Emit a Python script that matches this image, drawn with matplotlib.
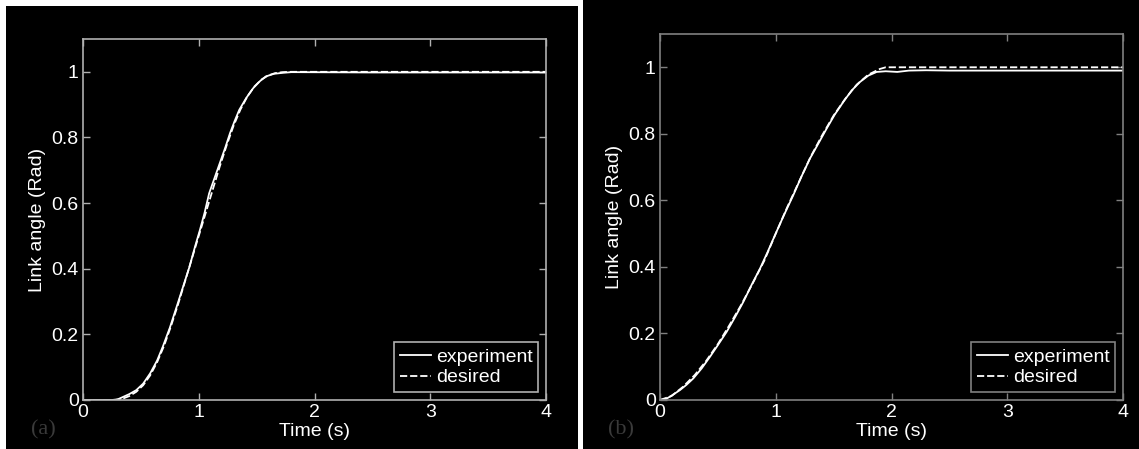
import matplotlib
matplotlib.use("Agg")
import matplotlib.pyplot as plt
from matplotlib.ticker import FuncFormatter

# ---- data ----
t_exp_a = [0, 0.25, 0.30, 0.35, 0.40, 0.46, 0.52, 0.58, 0.64, 0.69, 0.75, 0.81, 0.86,
           0.92, 0.97, 1.01, 1.05, 1.09, 1.14, 1.18, 1.23, 1.27, 1.31, 1.35, 1.41,
           1.47, 1.53, 1.58, 1.65, 1.73, 1.80, 2.5, 3.0, 4.0]
y_exp_a = [0.0, 0.0, 0.002, 0.01, 0.018, 0.03, 0.05, 0.081, 0.12, 0.163, 0.22, 0.285, 0.34,
           0.406, 0.47, 0.518, 0.57, 0.63, 0.68, 0.72, 0.77, 0.813, 0.85, 0.884, 0.92,
           0.95, 0.972, 0.986, 0.994, 0.997, 0.999, 0.998, 0.998, 0.998]
t_des_a = [0, 0.28, 0.35, 0.40, 0.46, 0.52, 0.58, 0.64, 0.70, 0.76, 0.82, 0.88, 0.94,
           1.00, 1.06, 1.12, 1.18, 1.24, 1.30, 1.36, 1.42, 1.48, 1.54, 1.60, 1.66,
           1.72, 1.80, 4.0]
y_des_a = [0.0, 0.0, 0.005, 0.012, 0.025, 0.045, 0.075, 0.115, 0.165, 0.225, 0.29, 0.36, 0.43,
           0.5, 0.57, 0.64, 0.71, 0.775, 0.835, 0.885, 0.925, 0.955, 0.976, 0.989, 0.996,
           0.999, 1.0, 1.0]

t_exp_b = [0, 0.05, 0.086, 0.13, 0.173, 0.23, 0.288, 0.36, 0.432, 0.50, 0.576, 0.65, 0.72,
           0.79, 0.864, 0.93, 0.994, 1.07, 1.152, 1.22, 1.296, 1.37, 1.44, 1.51, 1.584,
           1.655, 1.728, 1.80, 1.872, 1.95, 2.05, 2.15, 2.3, 2.5, 3.0, 4.0]
y_exp_b = [0.0, 0.003, 0.01, 0.02, 0.03, 0.046, 0.065, 0.095, 0.13, 0.165, 0.205, 0.25, 0.295,
           0.345, 0.395, 0.445, 0.496, 0.555, 0.616, 0.67, 0.726, 0.772, 0.816, 0.858, 0.896,
           0.93, 0.956, 0.975, 0.986, 0.988, 0.986, 0.99, 0.991, 0.99, 0.99, 0.99]
t_des_b = [0, 0.1, 0.2, 0.3, 0.4, 0.5, 0.6, 0.7, 0.8, 0.9, 1.0, 1.1, 1.2, 1.3, 1.4, 1.5,
           1.6, 1.7, 1.8, 1.9, 1.95, 4.0]
y_des_b = [0.0, 0.012, 0.04, 0.075, 0.118, 0.168, 0.225, 0.285, 0.35, 0.418, 0.5, 0.58,
           0.655, 0.73, 0.795, 0.855, 0.905, 0.948, 0.978, 0.995, 1.0, 1.0]

x_ticks = [0, 1, 2, 3, 4]
y_ticks = [0, 0.2, 0.4, 0.6, 0.8, 1.0]
panel_labels = ["(a)", "(b)"]
xlabel = "Time (s)"
ylabel = "Link angle (Rad)"
legend_labels = ["experiment", "desired"]

plt.rcParams['font.family'] = ['Liberation Sans', 'DejaVu Sans']

W, H = 1139, 449
fig = plt.figure(figsize=(W / 100, H / 100), dpi=100, facecolor='white')

# black panel backgrounds
bg_a = fig.add_axes([6 / W, 0, (578 - 6) / W, (H - 6) / H])
bg_b = fig.add_axes([583 / W, 0, (W - 583) / W, 1])
for bg in (bg_a, bg_b):
    bg.set_facecolor('black')
    bg.set_xticks([]); bg.set_yticks([])
    for s in bg.spines.values():
        s.set_visible(False)
    bg.set_zorder(0)

fmt = FuncFormatter(lambda v, p: ('%g' % v))

def make(ax, te, ye, td, yd, spine_col, lab, lab_x):
    ax.set_facecolor('black')
    ax.set_zorder(1)
    ax.plot(te, ye, color='white', lw=1.3, solid_joinstyle='round')
    ax.plot(td, yd, color='white', lw=1.3, dashes=(4, 1.6))
    ax.set_xlim(0, 4)
    ax.set_ylim(0, 1.1)
    ax.set_xticks(x_ticks)
    ax.set_yticks(y_ticks)
    ax.xaxis.set_major_formatter(fmt)
    ax.yaxis.set_major_formatter(fmt)
    ax.tick_params(direction='in', length=5, width=1, colors=spine_col,
                   labelcolor='white', labelsize=14, top=True, right=True, pad=3)
    for s in ax.spines.values():
        s.set_color(spine_col)
        s.set_linewidth(1.2)
    ax.set_xlabel(xlabel, color='white', fontsize=14, labelpad=1)
    ax.set_ylabel(ylabel, color='white', fontsize=14, labelpad=4)
    leg = ax.legend(legend_labels, loc='lower right', fontsize=14, frameon=True,
                    facecolor='black', edgecolor=spine_col, fancybox=False,
                    handlelength=1.6, handletextpad=0.25, borderpad=0.3,
                    labelspacing=0.15, borderaxespad=0.4, framealpha=1)
    leg.get_frame().set_linewidth(1.2)
    for tx in leg.get_texts():
        tx.set_color('white')
    fig.text(lab_x / W, 1 - 430 / H, lab, color='#3a3a3a', fontsize=16,
             family=['Liberation Serif', 'DejaVu Serif'], va='center', ha='left')

ax1 = fig.add_axes([83 / W, (H - 400) / H, (546 - 83) / W, (400 - 39) / H])
ax2 = fig.add_axes([660 / W, (H - 400) / H, (1123 - 660) / W, (400 - 34) / H])
make(ax1, t_exp_a, y_exp_a, t_des_a, y_des_a, '#b0b0b0', panel_labels[0], 31)
make(ax2, t_exp_b, y_exp_b, t_des_b, y_des_b, '#808080', panel_labels[1], 608)

fig.savefig('out.png', dpi=100, facecolor='white')
